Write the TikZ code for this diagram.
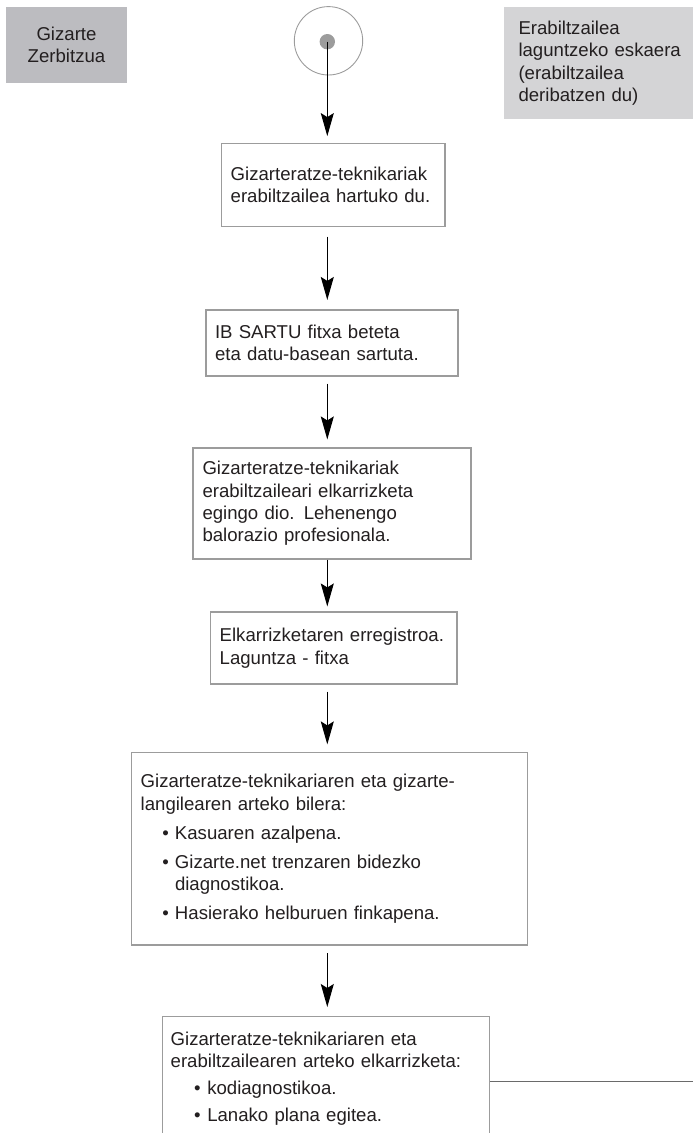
\documentclass[tikz,border=0pt]{standalone}
\usepackage{fontspec}
\setmainfont{Liberation Sans}
\usetikzlibrary{arrows.meta}
\definecolor{boxline}{HTML}{9C9C9C}
\definecolor{txt}{HTML}{231F20}
\definecolor{darkfill}{HTML}{BCBCC0}
\definecolor{lightfill}{HTML}{D4D4D6}
\definecolor{sideline}{HTML}{6A6A6A}
\newcommand{\bul}[4]{\par\vspace{#1}\hangindent=#4\hangafter=1\hspace*{#2}\makebox[#3][l]{•}\ignorespaces}
\begin{document}
\begin{tikzpicture}[x=1pt,y=-1pt,
  every node/.style={text=txt,font=\fontsize{18.6}{22.4}\selectfont},
  stepbox/.style={draw=boxline,line width=1.1pt,fill=white,rectangle,align=left,inner xsep=9pt,inner ysep=4pt},
  graybox/.style={rectangle,inner sep=0pt},
  arr/.style={draw=black,line width=1pt,-{Stealth[length=23pt,width=13pt,inset=4pt]}}]
\useasboundingbox (0,0) rectangle (693,1133);
\clip (0,0) rectangle (693,1133);
% header boxes
\node[graybox,fill=darkfill,minimum width=121pt,minimum height=76pt,align=center] (gz) at (66.5,44.7) {Gizarte\\Zerbitzua};
\node[graybox,fill=lightfill,anchor=west,minimum height=112.6pt,text width=171.4pt,inner xsep=14.3pt,align=left] (req) at (504,63) {Erabiltzailea\\laguntzeko eskaera\\(erabiltzailea\\deribatzen du)};
% start symbol
\node[circle,draw=boxline,line width=0.9pt,minimum size=68.4pt,inner sep=0pt] (start) at (328.5,40.8) {};
\node[circle,fill=boxline,minimum size=15.4pt,inner sep=0pt] (dot) at (327.3,41.7) {};
% steps
\node[stepbox,text width=205.3pt,minimum height=82.7pt] (b1) at (333.35,184.7) {Gizarteratze-teknikariak\\erabiltzailea hartuko du.};
\node[stepbox,text width=234pt,minimum height=66pt] (b2) at (332,343) {IB SARTU fitxa beteta\\eta datu-basean sartuta.};
\node[stepbox,text width=259pt,inner xsep=9.5pt,minimum height=111pt] (b3) at (332,503.5) {Gizarteratze-teknikariak\\erabiltzaileari elkarrizketa\\egingo dio. Lehenengo\\balorazio profesionala.};
\node[stepbox,text width=228.3pt,minimum height=72pt] (b4) at (333.85,648) {Elkarrizketaren erregistroa.\\Laguntza - fitxa};
\node[stepbox,text width=377.6pt,minimum height=192.3pt] (b5) at (329.5,848.8) {Gizarteratze-teknikariaren eta gizarte-\\langilearen arteko bilera:%
\bul{6.5pt}{21.6pt}{12.7pt}{34.3pt}Kasuaren azalpena.%
\bul{6.5pt}{21.6pt}{12.7pt}{34.3pt}Gizarte.net trenzaren bidezko\newline diagnostikoa.%
\bul{6.5pt}{21.6pt}{12.7pt}{34.3pt}Hasierako helburuen finkapena.};
\node[stepbox,text width=310.8pt,inner xsep=8pt,inner ysep=15pt,anchor=north] (b6) at (326.1,1016) {Gizarteratze-teknikariaren eta\\erabiltzailearen arteko elkarrizketa:%
\bul{4.5pt}{23.3pt}{13.3pt}{36.6pt}kodiagnostikoa.%
\bul{4.5pt}{23.3pt}{13.3pt}{36.6pt}Lanako plana egitea.\par\vspace{20pt}\mbox{}};
% connectors
\draw[arr,shorten >=6.7pt] (dot.center) -- (dot.center |- b1.north);
\draw[arr,shorten <=10pt,shorten >=9.5pt] (b1.south -| dot.center) -- (b2.north -| dot.center);
\draw[arr,shorten <=7pt,shorten >=8pt] (b2.south -| dot.center) -- (b3.north -| dot.center);
\draw[arr,shorten <=0pt,shorten >=5pt] (b3.south -| dot.center) -- (b4.north -| dot.center);
\draw[arr,shorten <=7pt,shorten >=7.7pt] (b4.south -| dot.center) -- (b5.north -| dot.center);
\draw[arr,shorten <=7.7pt,shorten >=9pt] (b5.south -| dot.center) -- (b6.north -| dot.center);
\coordinate (hend) at (693,1081.7);
\draw[draw=sideline,line width=1.5pt] (b6.east |- hend) -- (hend);
\end{tikzpicture}
\end{document}
